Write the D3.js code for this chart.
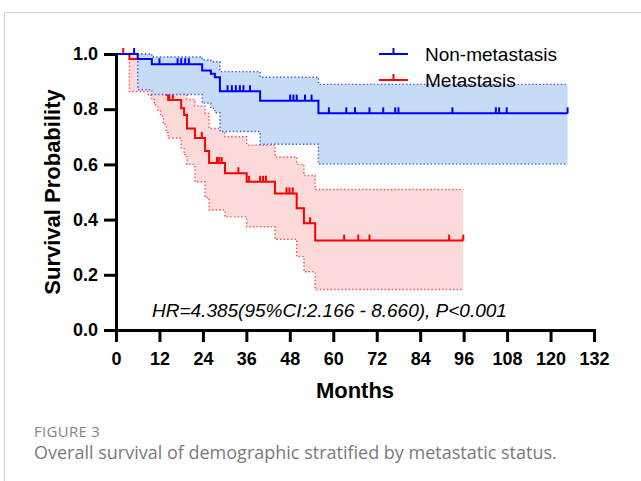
<!DOCTYPE html>
<html><head><meta charset="utf-8">
<script src="https://cdn.jsdelivr.net/npm/d3@7/dist/d3.min.js"></script>
<style>body{margin:0;background:#fff} svg{display:block}</style>
</head><body>
<svg id="chart" width="641" height="481"></svg>
<script>
// ---- tick labels ----
const xTickValues = [0, 12, 24, 36, 48, 60, 72, 84, 96, 108, 120, 132];
const yTickValues = [0, 0.2, 0.4, 0.6, 0.8, 1.0];
const seriesNames = ["Non-metastasis", "Metastasis"];

// ---- Non-metastasis (blue) Kaplan-Meier steps ----
const nmTime  = [0, 6.0, 9.9, 23.8, 26.2, 27.3, 28.7, 39.8, 55.9];
const nmSurv  = [1.0, 0.982, 0.963, 0.940, 0.928, 0.916, 0.865, 0.831, 0.785];
const nmUpper = [1.0, 1.0, 0.989, 0.978, 0.972, 0.972, 0.936, 0.916, 0.890];
const nmLower = [1.0, 0.871, 0.853, 0.822, 0.803, 0.787, 0.719, 0.673, 0.601];
const nmEnd = 124.7;
const nmCensor = [5.0, 12.0, 17.0, 18.0, 19.1, 20.1, 30.8, 32.0, 33.1, 34.2, 35.2, 37.0,
  48.1, 49.0, 49.9, 52.2, 54.0, 58.8, 63.6, 66.0, 70.0, 73.8, 77.1, 78.0, 92.9,
  104.9, 105.8, 107.9, 124.7];

// ---- Metastasis (red) Kaplan-Meier steps ----
const mTime  = [0, 3.7, 8.9, 9.8, 10.6, 11.5, 12.3, 13.1, 13.9, 14.4, 18.0, 18.8, 19.6,
  21.8, 24.6, 25.7, 30.1, 36.1, 43.9, 49.9, 51.9, 55.0];
const mSurv  = [1.0, 0.982, 0.964, 0.946, 0.927, 0.909, 0.891, 0.872, 0.852, 0.833, 0.803,
  0.779, 0.730, 0.696, 0.649, 0.605, 0.568, 0.537, 0.495, 0.441, 0.387, 0.324];
const mUpper = [1.0, 1.0, 0.995, 0.99, 0.98, 0.97, 0.96, 0.95, 0.935, 0.92, 0.89,
  0.86, 0.835, 0.812, 0.785, 0.73, 0.70, 0.67, 0.627, 0.60, 0.56, 0.509];
const mLower = [1.0, 0.864, 0.85, 0.835, 0.815, 0.797, 0.775, 0.745, 0.715, 0.695, 0.66,
  0.635, 0.60, 0.537, 0.48, 0.435, 0.41, 0.374, 0.329, 0.266, 0.211, 0.147];
const mEnd = 95.9;
const mCensor = [2.0, 14.7, 15.7, 23.7, 27.9, 28.5, 29.2, 33.8, 36.7, 39.8, 40.6, 41.4,
  47.1, 47.9, 48.8, 53.6, 63.0, 66.9, 70.0, 92.0, 95.9];

const annotation = "HR=4.385(95%CI:2.166 - 8.660), P<0.001";
const figLabel = "FIGURE 3";
const caption = "Overall survival of demographic stratified by metastatic status.";

// ---- drawing ----
const svg = d3.select("#chart");
const x = d3.scaleLinear().domain([0, 132]).range([116, 594]);
const y = d3.scaleLinear().domain([0, 1]).range([330, 54]);

// frame
svg.append("path").attr("d", "M4.5,481V12.5H641").attr("fill", "none")
  .attr("stroke", "#d2d2d2").attr("stroke-width", 1);

function rows(time, surv, up, lo, end) {
  const r = time.map((t, i) => ({t, s: surv[i], u: up[i], l: lo[i]}));
  const last = r[r.length - 1];
  r.push({t: end, s: last.s, u: last.u, l: last.l});
  return r;
}
function survAt(time, surv, t) {
  let s = surv[0];
  for (let i = 0; i < time.length; i++) if (time[i] <= t) s = surv[i];
  return s;
}

function drawGroup(data, time, surv, censor, color, fill, dotColor) {
  const g = svg.append("g");
  g.append("path").datum(data)
    .attr("d", d3.area().curve(d3.curveStepAfter).x(d => x(d.t)).y0(d => y(d.l)).y1(d => y(d.u)))
    .attr("fill", fill).attr("stroke", "none");
  ["u", "l"].forEach(k => {
    g.append("path").datum(data)
      .attr("d", d3.line().curve(d3.curveStepAfter).x(d => x(d.t)).y(d => y(d[k])))
      .attr("fill", "none").attr("stroke", dotColor).attr("stroke-width", 1.4)
      .attr("stroke-dasharray", "1.4 2.2");
  });
  g.append("path").datum(data)
    .attr("d", d3.line().curve(d3.curveStepAfter).x(d => x(d.t)).y(d => y(d.s)))
    .attr("fill", "none").attr("stroke", color).attr("stroke-width", 2);
  g.selectAll("line.c").data(censor).enter().append("line")
    .attr("x1", d => x(d)).attr("x2", d => x(d))
    .attr("y1", d => y(survAt(time, surv, d)))
    .attr("y2", d => y(survAt(time, surv, d)) - 6)
    .attr("stroke", color).attr("stroke-width", 2);
}

drawGroup(rows(mTime, mSurv, mUpper, mLower, mEnd), mTime, mSurv, mCensor,
  "#ff0000", "#fddada", "#ff4a4a");
drawGroup(rows(nmTime, nmSurv, nmUpper, nmLower, nmEnd), nmTime, nmSurv, nmCensor,
  "#0000ff", "#c6dbf5", "#3a55ff");

// axes
const font = "'Liberation Sans', Arial, Helvetica, sans-serif";
const yAxis = svg.append("g").attr("transform", "translate(116,0)")
  .call(d3.axisLeft(y).tickValues(yTickValues).tickSize(12).tickSizeOuter(0)
    .tickPadding(6).tickFormat(d3.format(".1f")));
const xAxis = svg.append("g").attr("transform", "translate(0,330)")
  .call(d3.axisBottom(x).tickValues(xTickValues).tickSize(12).tickSizeOuter(0)
    .tickPadding(10).tickFormat(d3.format("d")));
[yAxis, xAxis].forEach(a => {
  a.select(".domain").attr("stroke", "#000").attr("stroke-width", 3).attr("stroke-linecap", "square");
  a.selectAll(".tick line").attr("stroke", "#000").attr("stroke-width", 3);
  a.selectAll(".tick text").attr("fill", "#000").style("font-family", font)
    .style("font-size", "18px").style("font-weight", "bold");
});

svg.append("text").attr("x", 355).attr("y", 398).attr("text-anchor", "middle")
  .style("font-family", font).style("font-size", "22px").style("font-weight", "bold")
  .text("Months");
svg.append("text").attr("transform", "translate(60,192) rotate(-90)").attr("text-anchor", "middle")
  .style("font-family", font).style("font-size", "22px").style("font-weight", "bold")
  .text("Survival Probability");

// legend
const legend = [
  {name: seriesNames[0], color: "#0000ff", y: 54},
  {name: seriesNames[1], color: "#ff0000", y: 80}
];
legend.forEach(d => {
  svg.append("line").attr("x1", 379).attr("x2", 408).attr("y1", d.y).attr("y2", d.y)
    .attr("stroke", d.color).attr("stroke-width", 2);
  svg.append("line").attr("x1", 393.5).attr("x2", 393.5).attr("y1", d.y).attr("y2", d.y - 6)
    .attr("stroke", d.color).attr("stroke-width", 2);
  svg.append("text").attr("x", 425).attr("y", d.y + 6.5)
    .style("font-family", font).style("font-size", "19px").attr("fill", "#000")
    .text(d.name);
});

svg.append("text").attr("x", 152).attr("y", 317)
  .style("font-family", font).style("font-size", "19px").style("font-style", "italic")
  .attr("fill", "#000").text(annotation);

svg.append("text").attr("x", 34).attr("y", 437)
  .style("font-family", "'Open Sans', sans-serif").style("font-size", "15px")
  .style("letter-spacing", "0.3px")
  .attr("fill", "#858585").text(figLabel);
svg.append("text").attr("x", 34).attr("y", 459)
  .style("font-family", "'Open Sans', sans-serif").style("font-size", "18px")
  .attr("fill", "#7a7a7a").text(caption);
</script>
</body></html>
